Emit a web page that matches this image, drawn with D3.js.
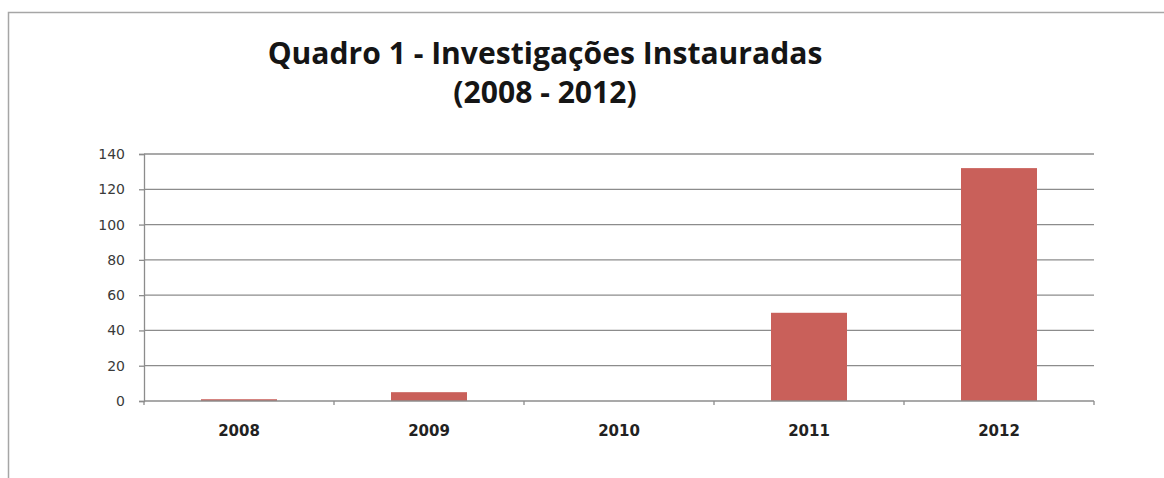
<!DOCTYPE html>
<html>
<head>
<meta charset="utf-8">
<script src="https://cdn.jsdelivr.net/npm/d3@7"></script>
<style>
  html, body { margin: 0; padding: 0; background: #fff; }
  svg { display: block; }
</style>
</head>
<body>
<div id="chart"></div>
<script>
// Investigações instauradas por ano
const years = ["2008", "2009", "2010", "2011", "2012"];
const counts = [1, 5, 0, 50, 132];
const yTicks = [0, 20, 40, 60, 80, 100, 120, 140];
const titleLines = ["Quadro 1 - Investigações Instauradas", "(2008 - 2012)"];

const W = 1164, H = 478;
const margin = { left: 144, right: 70, top: 154, bottom: 77 };

const svg = d3.select("#chart").append("svg")
  .attr("width", W).attr("height", H);

// outer frame
svg.append("path")
  .attr("d", `M8.5,${H} V12.5 H${W}`)
  .attr("fill", "none")
  .attr("stroke", "#a6a6a6")
  .attr("stroke-width", 1.5);

const x = d3.scaleBand()
  .domain(years)
  .range([margin.left, W - margin.right])
  .paddingInner(0.6)
  .paddingOuter(0.3);

const y = d3.scaleLinear()
  .domain([0, 140])
  .range([H - margin.bottom, margin.top]);

// horizontal gridlines
svg.append("g")
  .selectAll("line")
  .data(yTicks.filter(d => d > 0))
  .join("line")
  .attr("x1", margin.left)
  .attr("x2", W - margin.right)
  .attr("y1", d => y(d))
  .attr("y2", d => y(d))
  .attr("stroke", "#8c8c8c")
  .attr("stroke-width", 1.3);

// bars
svg.append("g")
  .selectAll("rect")
  .data(years.map((yr, i) => ({ yr, v: counts[i] })))
  .join("rect")
  .attr("x", d => x(d.yr))
  .attr("width", x.bandwidth())
  .attr("y", d => y(d.v))
  .attr("height", d => y(0) - y(d.v))
  .attr("fill", "#c9605a");

// y axis
const yAxis = svg.append("g")
  .attr("transform", `translate(${margin.left},0)`)
  .call(d3.axisLeft(y).tickValues(yTicks).tickSize(5).tickPadding(14));
yAxis.select(".domain").attr("stroke", "#8c8c8c").attr("stroke-width", 1.3);
yAxis.selectAll(".tick line").attr("stroke", "#8c8c8c").attr("stroke-width", 1.3);
yAxis.selectAll(".tick text")
  .attr("font-family", "DejaVu Sans, Verdana, sans-serif")
  .attr("font-size", 14)
  .attr("fill", "#3a3a3a");

// x axis baseline with boundary ticks
const xg = svg.append("g");
xg.append("line")
  .attr("x1", margin.left).attr("x2", W - margin.right)
  .attr("y1", y(0)).attr("y2", y(0))
  .attr("stroke", "#8c8c8c").attr("stroke-width", 1.3);
const step = x.step();
const bounds = d3.range(years.length + 1).map(i => margin.left + i * step);
xg.selectAll("line.b")
  .data(bounds)
  .join("line")
  .attr("class", "b")
  .attr("x1", d => d).attr("x2", d => d)
  .attr("y1", y(0)).attr("y2", y(0) + 4)
  .attr("stroke", "#8c8c8c").attr("stroke-width", 1.3);
xg.selectAll("text")
  .data(years)
  .join("text")
  .attr("x", d => x(d) + x.bandwidth() / 2)
  .attr("y", y(0) + 35)
  .attr("text-anchor", "middle")
  .attr("font-family", "DejaVu Sans, Verdana, sans-serif")
  .attr("font-weight", "bold")
  .attr("font-size", 15)
  .attr("fill", "#222")
  .text(d => d);

// title
const title = svg.append("g")
  .attr("font-family", "Open Sans, sans-serif")
  .attr("font-weight", "bold")
  .attr("fill", "#151515")
  .attr("text-anchor", "middle");
const t1 = title.append("text")
  .attr("x", 545).attr("y", 64)
  .attr("font-size", 24)
  .text(titleLines[0]);
const w1 = t1.node().getComputedTextLength();
const fs = 24 * 555 / w1;
t1.attr("font-size", fs);
title.append("text")
  .attr("x", 545).attr("y", 103)
  .attr("font-size", fs)
  .text(titleLines[1]);
</script>
</body>
</html>
